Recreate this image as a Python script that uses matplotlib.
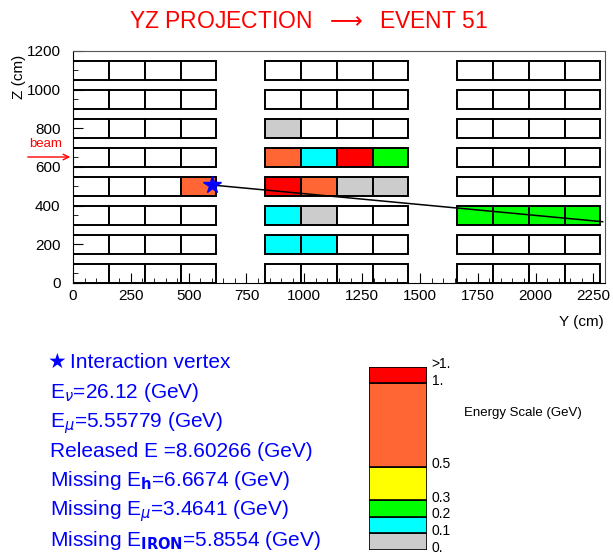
import numpy as np
import matplotlib
matplotlib.use('Agg')
import matplotlib.pyplot as plt
from matplotlib.patches import Rectangle

plt.rcParams['font.family'] = ['Liberation Sans', 'DejaVu Sans']

W, H = 613, 553

# detector layout (cm)
module_start = [0, 830, 1660]
n_cols = 4
block_w = 155
n_rows = 8
row_pitch = 150
row_h = 100

# hit blocks: module, row (0 = bottom), column, energy (GeV)
hit_module = [0, 1, 1, 1, 1, 1, 1, 1, 1, 1, 1, 1, 1, 1, 2, 2, 2, 2]
hit_row    = [3, 5, 4, 4, 4, 4, 3, 3, 3, 3, 2, 2, 1, 1, 2, 2, 2, 2]
hit_col    = [3, 0, 0, 1, 2, 3, 0, 1, 2, 3, 0, 1, 0, 1, 0, 1, 2, 3]
hit_energy = [0.7, 0.05, 0.7, 0.15, 1.4, 0.25, 1.3, 0.75, 0.05, 0.05,
              0.15, 0.05, 0.15, 0.15, 0.25, 0.25, 0.25, 0.25]

# energy scale
scale_bounds = [0, 0.1, 0.2, 0.3, 0.5, 1.0, 1.1]
scale_labels = ['0.', '0.1', '0.2', '0.3', '0.5', '1.', '>1.']
scale_colors = ['#cccccc', '#00ffff', '#00ff00', '#ffff00', '#ff6633', '#ff0000']

# vertex and muon track
vtx_y, vtx_z = 600, 507
track_y = [600, 2290]
track_z = [507, 317]

info_lines = [r'E$_{\nu}$=26.12 (GeV)',
              r'E$_{\mu}$=5.55779 (GeV)',
              'Released E =8.60266 (GeV)',
              r'Missing E$_{\mathbf{h}}$=6.6674 (GeV)',
              r'Missing E$_{\mu}$=3.4641 (GeV)',
              r'Missing E$_{\mathbf{IRON}}$=5.8554 (GeV)']


def fx(x):
    return x / W


def fy(y):
    return 1 - y / H


def ecolor(e):
    i = np.digitize(e, scale_bounds[:-1]) - 1
    return scale_colors[min(max(i, 0), len(scale_colors) - 1)]


fig = plt.figure(figsize=(W / 100, H / 100), dpi=100)
ax = fig.add_axes([fx(73), fy(283), fx(605) - fx(73), fy(51) - fy(283)])

hits = {}
for m, r, c, e in zip(hit_module, hit_row, hit_col, hit_energy):
    hits[(m, r, c)] = ecolor(e)

for m, y0 in enumerate(module_start):
    for r in range(n_rows):
        for c in range(n_cols):
            fc = hits.get((m, r, c), 'white')
            ax.add_patch(Rectangle((y0 + c * block_w, r * row_pitch), block_w, row_h,
                                   facecolor=fc, edgecolor='black', lw=1.4, zorder=1))

ax.plot(track_y, track_z, color='black', lw=1.1, zorder=2)
ax.plot([vtx_y], [vtx_z], marker='*', color='blue', markersize=13, zorder=4)

ax.set_xlim(0, 2300)
ax.set_ylim(0, 1200)
ax.set_xticks(np.arange(0, 2251, 250))
ax.set_xticks(np.arange(0, 2300, 50), minor=True)
ax.set_yticks(np.arange(0, 1201, 200))
ax.set_yticks(np.arange(0, 1200, 50), minor=True)
ax.tick_params(which='both', direction='in', labelsize=11)
ax.tick_params(which='major', length=7)
ax.tick_params(which='minor', length=3.5)
ax.tick_params(axis='y', pad=9)
ax.tick_params(axis='x', pad=4)
for s in ['top', 'right']:
    ax.spines[s].set_color('#555555')
    ax.spines[s].set_linewidth(0.8)

fig.text(fx(19), fy(77), 'Z (cm)', rotation=90, ha='center', va='center', fontsize=11)
fig.text(fx(604), fy(322), 'Y (cm)', ha='right', va='center', fontsize=11)

fig.text(fx(309), fy(22), 'YZ PROJECTION  $\\longrightarrow$  EVENT 51', color='red',
         ha='center', va='center', fontsize=16.5)

# beam arrow
fig.text(fx(46), fy(144), 'beam', color='red', ha='center', va='center', fontsize=9.5)
ax.annotate('', xy=(fx(73), fy(157)), xytext=(fx(25), fy(157)),
            xycoords='figure fraction', textcoords='figure fraction',
            arrowprops=dict(arrowstyle='->', color='red', lw=1.0))

# info text
fig.text(fx(48), fy(368), '\u2605', color='blue', ha='left', va='baseline', fontsize=15,
         family=['DejaVu Sans'])
fig.text(fx(70), fy(368), 'Interaction vertex', color='blue', ha='left', va='baseline',
         fontsize=15)
for i, line in enumerate(info_lines):
    fig.text(fx(50), fy(397.5 + i * 29.6), line, color='blue', ha='left', va='baseline',
             fontsize=15)

# energy scale bar
ax2 = fig.add_axes([fx(369), fy(550), fx(427) - fx(369), fy(366.7) - fy(550)])
lo = np.array(scale_bounds[:-1])
hi = np.array(scale_bounds[1:])
ax2.bar(0, hi - lo, bottom=lo, width=1, color=scale_colors, edgecolor='black', lw=1.2)
ax2.set_xlim(-0.5, 0.5)
ax2.set_ylim(0, 1.1)
ax2.axis('off')
for v, lab in zip(scale_bounds, scale_labels):
    ax2.annotate(lab, xy=(1.08, v), xycoords=ax2.get_yaxis_transform(),
                 xytext=(0, 1.8), textcoords='offset points',
                 ha='left', va='center', fontsize=10)
fig.text(fx(464), fy(413), 'Energy Scale (GeV)', ha='left', va='center', fontsize=9.5)

fig.savefig('out.png', dpi=100)
